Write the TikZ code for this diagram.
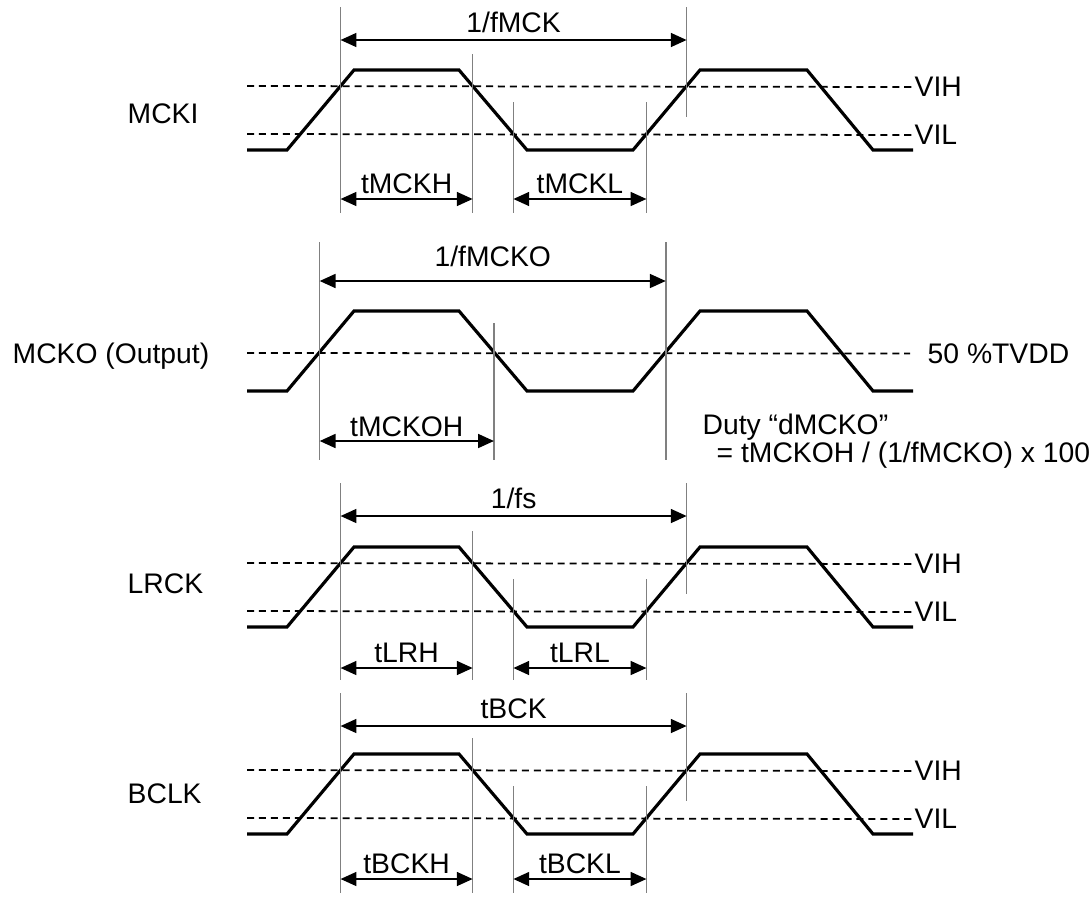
\documentclass[tikz,border=0pt]{standalone}
\usepackage{fontspec}
\setmainfont{Liberation Sans}
\usepackage{tikz}
\usetikzlibrary{arrows.meta}

\begin{document}
\begin{tikzpicture}[x=0.1mm, y=-0.1mm, >={Triangle[length=4.5pt, width=4pt]},
    font=\fontsize{8.05pt}{9.6pt}\selectfont,
    sig/.style={line width=0.9pt},
    lvl/.style={line width=0.5pt, dash pattern=on 2pt off 1.4pt},
    guide/.style={line width=0.45pt, black!50},
    dim/.style={<->, line width=0.4pt},
    lbl/.style={anchor=base, inner sep=0pt},
    lvltxt/.style={anchor=west, inner sep=0pt}]
  \useasboundingbox (0,0) rectangle (1091,897);

  % MCKI, LRCK and BCLK: same waveform with VIH / VIL levels
  \foreach \p/\h/\ly/\pa/\gb/\sa/\nm/\per/\th/\tl in {
      mcki/70/53/-30/143/129/MCKI/{1/fMCK}/tMCKH/tMCKL,
      lrck/547/46/-31/133/121/LRCK/{1/fs}/tLRH/tLRL,
      bclk/754/49/-28/139/125/BCLK/tBCK/tBCKH/tBCKL}{
    \begin{scope}[shift={(0,\h)}]
      \node[anchor=base west, inner sep=0pt] (\p) at (127,\ly) {\nm};
      \draw[sig] (247,80) -- (287,80) -- (354,0) -- (459,0) -- (527,80)
        -- (633,80) -- (700,0) -- (807,0) -- (873,80) -- (913,80);
      % input levels
      \node[lvltxt] (\p-vih) at (914,17) {VIH};
      \node[lvltxt] (\p-vil) at (914,65) {VIL};
      \draw[lvl] (247,16) -- (\p-vih.west);
      \draw[lvl] (247,64) -- (\p-vil.west);
      % edge crossings
      \coordinate (\p-r1) at (340.6,16);
      \coordinate (\p-f1) at (472.6,16);
      \coordinate (\p-f2) at (513.4,64);
      \coordinate (\p-r2) at (646.4,64);
      \coordinate (\p-r3) at (686.6,16);
      \draw[guide] (\p-r1 |- 0,\pa-33) -- (\p-r1 |- 0,\gb);
      \draw[guide] (\p-f1 |- 0,-16) -- (\p-f1 |- 0,\gb);
      \draw[guide] (\p-f2 |- 0,32) -- (\p-f2 |- 0,\gb);
      \draw[guide] (\p-r2 |- 0,32) -- (\p-r2 |- 0,\gb);
      \draw[guide] (\p-r3 |- 0,\pa-33) -- (\p-r3 |- 0,47);
      % timing
      \draw[dim] (\p-r1 |- 0,\pa) -- node[lbl, midway, yshift=2pt] (\p-per) {\per} (\p-r3 |- 0,\pa);
      \draw[dim] (\p-r1 |- 0,\sa) -- node[lbl, midway, yshift=1.7pt] (\p-hi) {\th} (\p-f1 |- 0,\sa);
      \draw[dim] (\p-f2 |- 0,\sa) -- node[lbl, midway, yshift=1.7pt] (\p-lo) {\tl} (\p-r2 |- 0,\sa);
    \end{scope}
  }

  % MCKO output, 50% level
  \begin{scope}[shift={(0,311)}]
    \node[anchor=base west, inner sep=0pt] (mcko) at (12,52) {MCKO (Output)};
    \draw[sig] (247,80) -- (287,80) -- (354,0) -- (459,0) -- (527,80)
      -- (633,80) -- (700,0) -- (807,0) -- (873,80) -- (913,80);
    \node[lvltxt] (mcko-tvdd) at (927,42.5) {50 \%TVDD};
    \draw[lvl] (247,42) -- ([xshift=-4.8pt]mcko-tvdd.west);
    \coordinate (mcko-r1) at (319.7,42);
    \coordinate (mcko-f1) at (493.9,42);
    \coordinate (mcko-r2) at (665.7,42);
    \draw[guide] (mcko-r1 |- 0,-69) -- (mcko-r1 |- 0,149);
    \draw[guide] (mcko-f1 |- 0,12) -- (mcko-f1 |- 0,149);
    \draw[guide] (mcko-r2 |- 0,-69) -- (mcko-r2 |- 0,149);
    \draw[dim] (mcko-r1 |- 0,-30) -- node[lbl, midway, yshift=4pt] (mcko-per) {1/fMCKO} (mcko-r2 |- 0,-30);
    \draw[dim] (mcko-r1 |- 0,130) -- node[lbl, midway, yshift=1.2pt] (mcko-hi) {tMCKOH} (mcko-f1 |- 0,130);
    \node[anchor=base west, inner sep=0pt] (duty) at (702,123) {Duty “dMCKO”};
    \node[anchor=base west, inner sep=0pt] (dutyeq) at (716,151) {= tMCKOH / (1/fMCKO) x 100};
  \end{scope}
\end{tikzpicture}
\end{document}
